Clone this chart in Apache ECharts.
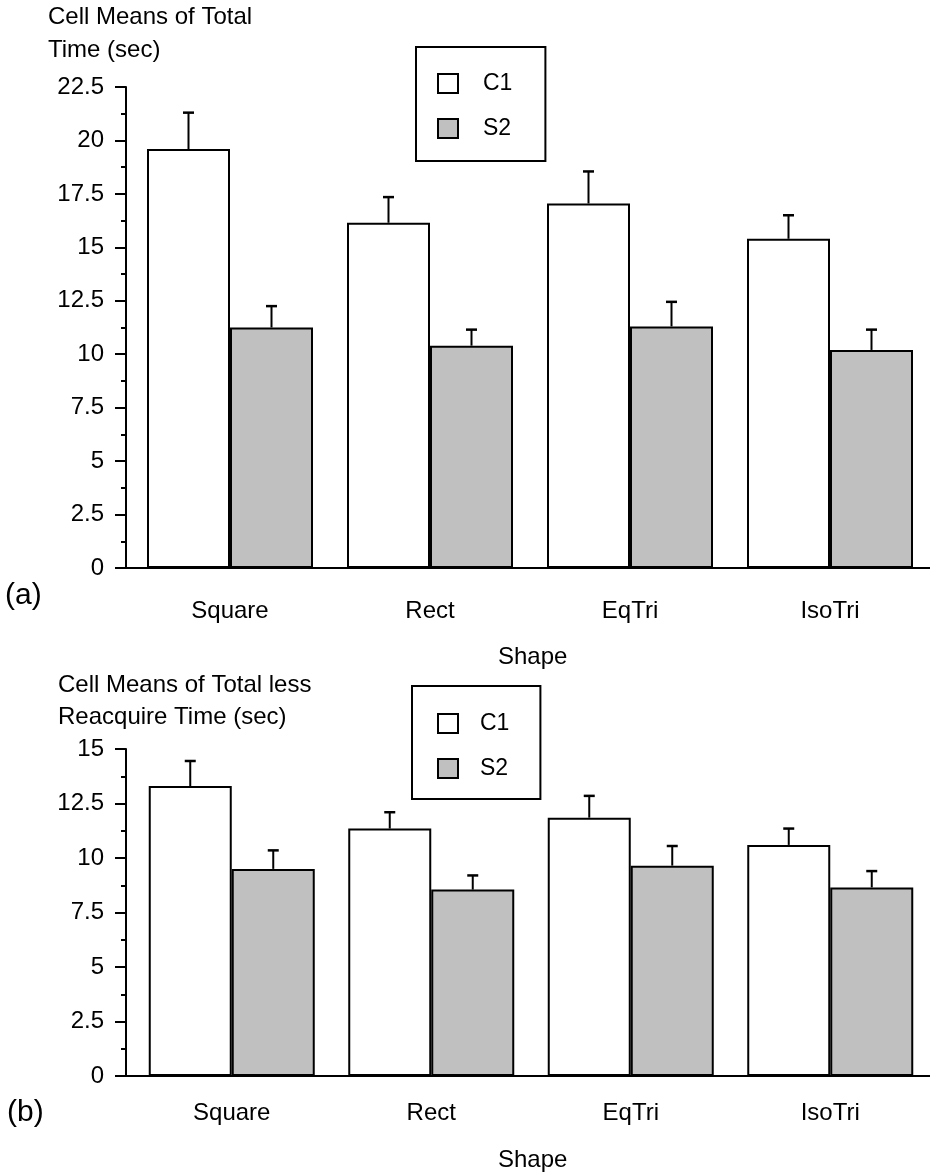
<!DOCTYPE html>
<html>
<head>
<meta charset="utf-8">
<script src="https://cdn.jsdelivr.net/npm/echarts@6/dist/echarts.min.js"></script>
<style>
  html, body { margin: 0; padding: 0; background: #fff; }
  #chart { width: 930px; height: 1172px; }
</style>
</head>
<body>
<div id="chart"></div>
<script>
// categories and cell means
var shapes = ['Square', 'Rect', 'EqTri', 'IsoTri'];
var seriesNames = ['C1', 'S2'];

// (a) total time
var totalC1 = [19.6, 16.15, 17.05, 15.4];
var totalC1Err = [1.7, 1.2, 1.5, 1.1];
var totalS2 = [11.25, 10.4, 11.3, 10.2];
var totalS2Err = [1.0, 0.75, 1.15, 0.95];

// (b) total less reacquire time
var lessC1 = [13.3, 11.35, 11.85, 10.6];
var lessC1Err = [1.15, 0.75, 1.0, 0.75];
var lessS2 = [9.5, 8.55, 9.65, 8.65];
var lessS2Err = [0.85, 0.65, 0.9, 0.75];

// axis ranges
var totalAxis = { min: 0, max: 22.5, interval: 2.5 };
var lessAxis = { min: 0, max: 15, interval: 2.5 };

var FONT = 'Liberation Sans, Arial, Helvetica, sans-serif';
var BAR_W = 83;
var GRAY = '#c0c0c0';

var chart = echarts.init(document.getElementById('chart'));

// error bar drawn above each bar, shifted to the bar's half of the category
function errorBar(offset) {
    return function (params, api) {
        var cat = api.value(0), v = api.value(1), e = api.value(2);
        var base = api.coord([cat, v]);
        var top = api.coord([cat, v + e]);
        var x = base[0] + offset;
        return {
            type: 'group',
            children: [
                { type: 'line', shape: { x1: x, y1: base[1], x2: x, y2: top[1] },
                  style: { stroke: '#000', lineWidth: 2 } },
                { type: 'line', shape: { x1: x - 5.5, y1: top[1], x2: x + 5.5, y2: top[1] },
                  style: { stroke: '#000', lineWidth: 2.5 } }
            ]
        };
    };
}

function errData(vals, errs) {
    return vals.map(function (v, i) { return [i, v, errs[i]]; });
}

function xAxisCfg(gridIndex, margin) {
    return {
        type: 'category', gridIndex: gridIndex, data: shapes,
        // small rect at the start closes the gap to the shifted y axis
        axisLine: { lineStyle: { color: '#000', width: 2 },
                    symbol: ['rect', 'none'], symbolSize: [2, 12] },
        axisTick: { alignWithLabel: true, length: 10, lineStyle: { color: '#000', width: 2 } },
        axisLabel: { color: '#000', fontSize: 24, fontFamily: FONT, margin: margin, lineHeight: 24 },
        splitLine: { show: false }
    };
}

function yAxisCfg(gridIndex, range, offset) {
    return {
        type: 'value', gridIndex: gridIndex,
        min: range.min, max: range.max, interval: range.interval,
        offset: offset,
        axisLine: { show: true, lineStyle: { color: '#000', width: 2 } },
        axisTick: { show: true, length: 11, lineStyle: { color: '#000', width: 2 } },
        minorTick: { show: true, splitNumber: 2, length: 5, lineStyle: { color: '#000', width: 2 } },
        axisLabel: { color: '#000', fontSize: 24, fontFamily: FONT, margin: 22 },
        splitLine: { show: false }
    };
}

function legendCfg(left, top, padding, textPad) {
    return {
        left: left, top: top, orient: 'vertical', data: seriesNames,
        icon: 'rect', itemWidth: 20, itemHeight: 19, itemGap: 22,
        padding: padding,
        borderColor: '#000', borderWidth: 2, selectedMode: false,
        itemStyle: { borderColor: '#000', borderWidth: 2 },
        textStyle: { color: '#000', fontSize: 23, fontFamily: FONT, lineHeight: 19,
                     padding: [0, 0, 0, textPad] }
    };
}

function barSeries(name, gridIndex, values, color) {
    return {
        name: name, type: 'bar', xAxisIndex: gridIndex, yAxisIndex: gridIndex,
        data: values, barWidth: BAR_W, barGap: '0%',
        itemStyle: { color: color, borderColor: '#000', borderWidth: 2 }
    };
}

function errSeries(name, gridIndex, values, errs, offset) {
    return {
        name: name, type: 'custom', xAxisIndex: gridIndex, yAxisIndex: gridIndex,
        data: errData(values, errs), renderItem: errorBar(offset), z: 5,
        encode: { x: 0, y: 1 }
    };
}

var titleText = { color: '#000', fontSize: 24, fontFamily: FONT, fontWeight: 'normal' };

chart.setOption({
    animation: false,
    backgroundColor: '#fff',
    title: [
        { text: 'Cell Means of Total\nTime (sec)', left: 48, top: 1, padding: 0,
          textStyle: Object.assign({}, titleText, { lineHeight: 33 }) },
        { text: '(a)', left: 5, top: 581, padding: 0,
          textStyle: Object.assign({}, titleText, { fontSize: 30, lineHeight: 30 }) },
        { text: 'Shape', left: 498, top: 645, padding: 0,
          textStyle: Object.assign({}, titleText, { lineHeight: 24 }) },
        { text: 'Cell Means of Total less\nReacquire Time (sec)', left: 58, top: 669, padding: 0,
          textStyle: Object.assign({}, titleText, { lineHeight: 32 }) },
        { text: '(b)', left: 7, top: 1098, padding: 0,
          textStyle: Object.assign({}, titleText, { fontSize: 30, lineHeight: 30 }) },
        { text: 'Shape', left: 498, top: 1148, padding: 0,
          textStyle: Object.assign({}, titleText, { lineHeight: 24 }) }
    ],
    legend: [
        legendCfg(416, 47, [25, 33, 21, 21], 20),
        legendCfg(412, 686, [26, 31, 19, 25], 17)
    ],
    grid: [
        { left: 130, top: 87, width: 801, height: 481 },
        { left: 132, top: 749, width: 800, height: 327 }
    ],
    xAxis: [xAxisCfg(0, 31), xAxisCfg(1, 25)],
    yAxis: [yAxisCfg(0, totalAxis, 4), yAxisCfg(1, lessAxis, 6)],
    series: [
        barSeries('C1', 0, totalC1, '#fff'),
        barSeries('S2', 0, totalS2, GRAY),
        errSeries('C1 error', 0, totalC1, totalC1Err, -BAR_W / 2),
        errSeries('S2 error', 0, totalS2, totalS2Err, BAR_W / 2),
        barSeries('C1', 1, lessC1, '#fff'),
        barSeries('S2', 1, lessS2, GRAY),
        errSeries('C1 error', 1, lessC1, lessC1Err, -BAR_W / 2),
        errSeries('S2 error', 1, lessS2, lessS2Err, BAR_W / 2)
    ]
});
</script>
</body>
</html>
